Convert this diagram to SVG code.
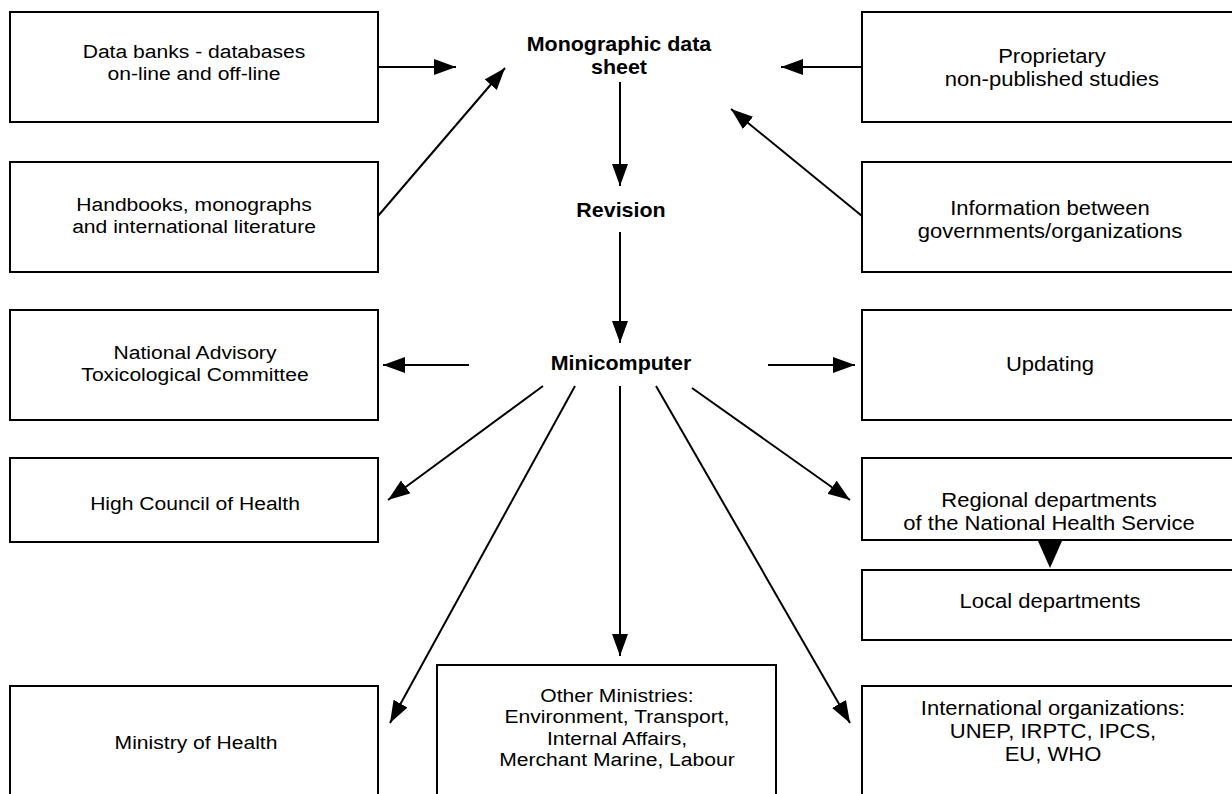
<svg xmlns="http://www.w3.org/2000/svg" width="1232" height="794" viewBox="0 0 1232 794">
<style>
.box{fill:#fff;stroke:#000;stroke-width:2}
.t{font-family:"Liberation Sans",Arial,sans-serif;font-size:19px;fill:#000;text-anchor:middle}
.r{font-size:19.5px}
.b{font-family:"Liberation Sans",Arial,sans-serif;font-size:19.5px;font-weight:bold;fill:#000;text-anchor:middle}
.c{stroke:#000;stroke-width:2;fill:none;marker-end:url(#ah)}
</style>
<defs>
<marker id="ah" markerUnits="userSpaceOnUse" markerWidth="24" markerHeight="18" refX="22" refY="8" orient="auto">
<path d="M0,0 L22,8 L0,16 z" fill="#000"/>
</marker>
</defs>
<rect width="1232" height="794" fill="#fff"/>
<g id="data-banks"><rect class="box" x="10" y="12" width="368" height="110"/><g transform="translate(194,0) scale(1.11,1)"><text class="t" x="0" y="58">Data banks - databases</text><text class="t" x="0" y="80">on-line and off-line</text></g></g>
<g id="handbooks"><rect class="box" x="10" y="162" width="368" height="110"/><g transform="translate(194,0) scale(1.11,1)"><text class="t" x="0" y="211">Handbooks, monographs</text><text class="t" x="0" y="233">and international literature</text></g></g>
<g id="national-advisory"><rect class="box" x="10" y="310" width="368" height="110"/><g transform="translate(195,0) scale(1.11,1)"><text class="t" x="0" y="359">National Advisory</text><text class="t" x="0" y="381">Toxicological Committee</text></g></g>
<g id="high-council"><rect class="box" x="10" y="458" width="368" height="84"/><g transform="translate(195,0) scale(1.11,1)"><text class="t" x="0" y="510">High Council of Health</text></g></g>
<g id="ministry-health"><rect class="box" x="10" y="686" width="368" height="120"/><g transform="translate(196,0) scale(1.11,1)"><text class="t" x="0" y="749">Ministry of Health</text></g></g>
<g id="other-ministries"><rect class="box" x="437" y="665" width="339" height="140"/><g transform="translate(617,0) scale(1.11,1)"><text class="t" x="0" y="702">Other Ministries:</text><text class="t" x="0" y="723.5">Environment, Transport,</text><text class="t" x="0" y="745">Internal Affairs,</text><text class="t" x="0" y="766.5">Merchant Marine, Labour</text></g></g>
<g id="proprietary"><rect class="box" x="862" y="12" width="380" height="110"/><g transform="translate(1052,0) scale(1.13,1)"><text class="t r" x="0" y="63">Proprietary</text><text class="t r" x="0" y="86">non-published studies</text></g></g>
<g id="information"><rect class="box" x="862" y="162" width="380" height="110"/><g transform="translate(1050,0) scale(1.13,1)"><text class="t r" x="0" y="215">Information between</text><text class="t r" x="0" y="238">governments/organizations</text></g></g>
<g id="updating"><rect class="box" x="862" y="310" width="380" height="110"/><g transform="translate(1050,0) scale(1.13,1)"><text class="t r" x="0" y="371">Updating</text></g></g>
<g id="regional"><rect class="box" x="862" y="458" width="380" height="82"/><g transform="translate(1049,0) scale(1.13,1)"><text class="t r" x="0" y="507">Regional departments</text><text class="t r" x="0" y="530">of the National Health Service</text></g></g>
<g id="local"><rect class="box" x="862" y="570" width="380" height="70"/><g transform="translate(1050,0) scale(1.13,1)"><text class="t r" x="0" y="608">Local departments</text></g></g>
<g id="international"><rect class="box" x="862" y="686" width="380" height="120"/><g transform="translate(1053,0) scale(1.13,1)"><text class="t r" x="0" y="715">International organizations:</text><text class="t r" x="0" y="738">UNEP, IRPTC, IPCS,</text><text class="t r" x="0" y="761">EU, WHO</text></g></g>
<g id="monographic"><g transform="translate(619,0) scale(1.1,1)"><text class="b" x="0" y="51">Monographic data</text><text class="b" x="0" y="74">sheet</text></g></g>
<g id="revision"><g transform="translate(621,0) scale(1.1,1)"><text class="b" x="0" y="217">Revision</text></g></g>
<g id="minicomputer"><g transform="translate(621,0) scale(1.1,1)"><text class="b" x="0" y="370">Minicomputer</text></g></g>
<g id="connectors">
<line class="c" x1="378" y1="67" x2="456" y2="67"/>
<line class="c" x1="378" y1="216" x2="505" y2="68"/>
<line class="c" x1="862" y1="67" x2="781" y2="67"/>
<line class="c" x1="862" y1="216" x2="731" y2="109"/>
<line class="c" x1="620" y1="82" x2="620" y2="186"/>
<line class="c" x1="620" y1="232" x2="620" y2="343"/>
<line class="c" x1="469" y1="365" x2="383" y2="365"/>
<line class="c" x1="768" y1="365" x2="855" y2="365"/>
<line class="c" x1="543" y1="386" x2="388" y2="500"/>
<line class="c" x1="575" y1="386" x2="390" y2="723"/>
<line class="c" x1="620" y1="386" x2="620" y2="656"/>
<line class="c" x1="656" y1="386" x2="850" y2="723"/>
<line class="c" x1="692" y1="388" x2="850" y2="500"/>
<polygon points="1038,541 1062,541 1050,568" fill="#000"/>
</g>
</svg>
